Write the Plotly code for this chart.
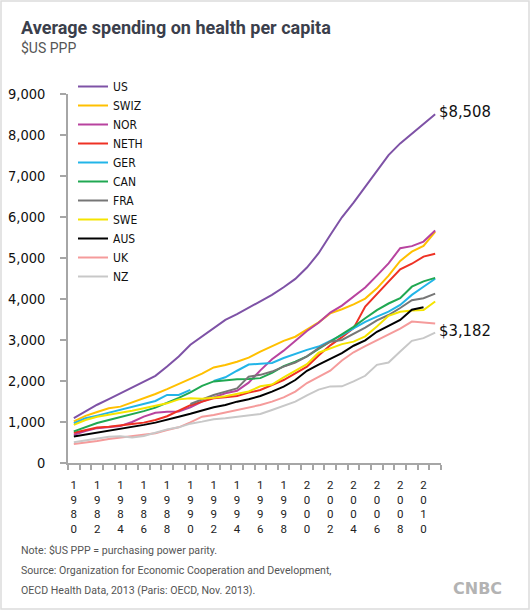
import plotly.graph_objects as go

# Average spending on health per capita, $US PPP
years = list(range(1980, 2012))

us = [1096, 1259, 1421, 1559, 1705, 1851, 1989, 2127, 2355, 2598, 2883, 3086, 3289, 3492, 3630, 3784,
      3938, 4101, 4287, 4490, 4766, 5116, 5562, 5993, 6350, 6740, 7146, 7511, 7795, 8039, 8282, 8508]
swiz = [1015, 1150, 1245, 1335, 1375, 1475, 1580, 1682, 1800, 1925, 2040, 2180, 2330, 2390, 2470, 2570,
        2715, 2850, 2980, 3080, 3250, 3430, 3650, 3750, 3870, 4010, 4260, 4570, 4930, 5155, 5294, 5640]
nor = [690, 780, 850, 880, 905, 1000, 1130, 1225, 1250, 1255, 1360, 1496, 1601, 1700, 1760, 1960,
       2260, 2530, 2740, 2980, 3220, 3420, 3670, 3840, 4060, 4280, 4570, 4870, 5238, 5290, 5400, 5669]
neth = [740, 805, 865, 885, 910, 950, 985, 1050, 1140, 1270, 1410, 1496, 1577, 1601, 1634, 1716,
        1780, 1902, 2024, 2187, 2350, 2620, 2870, 3070, 3290, 3815, 4130, 4425, 4725, 4860, 5035, 5105]
ger = [970, 1090, 1155, 1228, 1293, 1374, 1439, 1512, 1659, 1659, 1785, None, 2000, 2090, 2250, 2400,
       2420, 2440, 2560, 2660, 2760, 2840, 2970, 3120, 3285, 3440, 3570, 3690, 3854, 4100, 4300, 4495]
can = [770, 880, 975, 1050, 1120, 1190, 1265, 1350, 1465, 1590, 1720, 1880, 1990, 2020, 2040, 2050,
       2070, 2200, 2360, 2470, 2600, 2780, 2960, 3150, 3320, 3530, 3730, 3890, 4020, 4300, 4430, 4515]
fra = [None, None, None, None, None, None, None, None, None, None, 1440, 1553, 1658, 1740, 1821, 2106,
       2150, 2230, 2350, 2450, 2600, 2800, 2960, 3000, 3140, 3300, 3480, 3610, 3780, 3970, 4020, 4130]
swe = [930, 1049, 1130, 1187, 1228, 1276, 1332, 1390, 1455, 1552, 1577, 1570, 1590, 1630, 1690, 1745,
       1870, 1915, 2090, 2240, 2410, 2690, 2800, 2900, 2960, 3090, 3330, 3590, 3690, 3720, 3730, 3940]
aus = [645, 690, 745, 790, 835, 880, 930, 985, 1050, 1130, 1200, 1276, 1358, 1415, 1496, 1553,
       1634, 1740, 1862, 2024, 2250, 2400, 2550, 2680, 2860, 2990, 3200, 3350, 3490, 3740, 3800, None]
uk = [463, 496, 537, 585, 618, 642, 683, 724, 805, 870, 990, 1130, 1171, 1228, 1293, 1358,
      1415, 1496, 1601, 1740, 1950, 2100, 2250, 2500, 2700, 2850, 2990, 3120, 3280, 3450, 3420, 3405]
nz = [505, 555, 600, 640, 655, 625, 660, 740, 820, 870, 960, 1009, 1066, 1090, 1130, 1171,
      1195, 1293, 1390, 1496, 1650, 1790, 1868, 1870, 1990, 2127, 2395, 2452, 2720, 2980, 3045, 3182]

countries = ["US", "SWIZ", "NOR", "NETH", "GER", "CAN", "FRA", "SWE", "AUS", "UK", "NZ"]
series = [us, swiz, nor, neth, ger, can, fra, swe, aus, uk, nz]
colors = ["#7E52A6", "#FFC000", "#B8439F", "#EE3124", "#22B5E8", "#20A852",
          "#767676", "#F5E400", "#000000", "#F59B9B", "#C8C8C8"]

tick_years = list(range(1980, 2011, 2))
tick_text = ["<br>".join(str(y)) for y in tick_years]

# pixel layout
W, H = 530, 610
ML, MR, MT, MB = 68, 89, 94, 147
PW, PH = W - ML - MR, H - MT - MB

def px(x):
    return (x - ML) / PW

def py(y):
    return (H - MB - y) / PH

cond = "DejaVu Sans Condensed, Liberation Sans Narrow, sans-serif"
txt = "Roboto, Open Sans, sans-serif"
grey_axis = "#a6a6a6"

fig = go.Figure()
for name, vals, col in zip(countries, series, colors):
    fig.add_trace(go.Scatter(x=years, y=vals, name=name, mode="lines",
                             line=dict(color=col, width=2), connectgaps=False))

fig.update_layout(
    width=W, height=H,
    margin=dict(l=ML, r=MR, t=MT, b=MB, autoexpand=False),
    paper_bgcolor="white", plot_bgcolor="white",
    showlegend=True,
    legend=dict(x=px(73), y=py(72), xanchor="left", yanchor="top",
                font=dict(family=cond, size=12, color="#111"),
                bgcolor="rgba(0,0,0,0)", tracegroupgap=0),
)

fig.update_xaxes(
    range=[1979.5, 2011.5], showgrid=False, zeroline=False, automargin=False,
    showline=True, linecolor=grey_axis, linewidth=1.5,
    tickmode="array", tickvals=tick_years, ticktext=tick_text,
    ticks="", ticklabelstandoff=10, tickfont=dict(family=txt, size=11.5, color="#222"),
    minor=dict(tickvals=[1979.5 + k for k in range(33)], ticks="outside",
               ticklen=5, tickcolor=grey_axis, tickwidth=1.5),
)
fig.update_yaxes(
    range=[0, 9000], showgrid=False, zeroline=False, automargin=False,
    showline=True, linecolor=grey_axis, linewidth=1.5,
    tickvals=list(range(0, 9001, 1000)), tickformat=",d",
    ticks="outside", ticklen=6, tickcolor=grey_axis, tickwidth=1.5, ticklabelstandoff=12,
    tickfont=dict(family=cond, size=14.5, color="#111"),
)

# end labels
fig.add_annotation(x=2011, y=us[-1], text="$8,508", showarrow=False, xanchor="left",
                   xshift=2, yshift=3, font=dict(family=cond, size=16.5, color="#111"))
fig.add_annotation(x=2011, y=nz[-1], text="$3,182", showarrow=False, xanchor="left",
                   xshift=2, yshift=2, font=dict(family=cond, size=16.5, color="#111"))

# titles and notes
fig.add_annotation(xref="paper", yref="paper", x=px(19), y=py(27), xanchor="left", yanchor="middle",
                   text="<b>Average spending on health per capita</b>", showarrow=False,
                   font=dict(family=txt, size=18, color="#3b3f4c"))
fig.add_annotation(xref="paper", yref="paper", x=px(19), y=py(48), xanchor="left", yanchor="middle",
                   text="$US PPP", showarrow=False, font=dict(family=txt, size=14, color="#555"))
notes = ["Note: $US PPP = purchasing power parity.",
         "Source: Organization for Economic Cooperation and Development,",
         "OECD Health Data, 2013 (Paris: OECD, Nov. 2013)."]
for k, line in enumerate(notes):
    fig.add_annotation(xref="paper", yref="paper", x=px(19), y=py(550 + 20 * k), xanchor="left",
                       yanchor="middle", text=line, showarrow=False,
                       font=dict(family=txt, size=10.6, color="#555"))
fig.add_annotation(xref="paper", yref="paper", x=px(504), y=py(588), xanchor="right", yanchor="middle",
                   text="<b>CNBC</b>", showarrow=False,
                   font=dict(family="DejaVu Sans", size=16, color="#b3b3b3"))

# light frame round the whole card
fig.add_shape(type="rect", xref="paper", yref="paper",
              x0=px(1), x1=px(W - 1), y0=py(H - 1), y1=py(1),
              line=dict(color="#dcdcdc", width=1.5))

# page body has an 8px default margin; drop it so the card sits at the window corner
fig.write_html("out.html", config={"displayModeBar": False},
               post_script="document.body.style.margin='0';")
